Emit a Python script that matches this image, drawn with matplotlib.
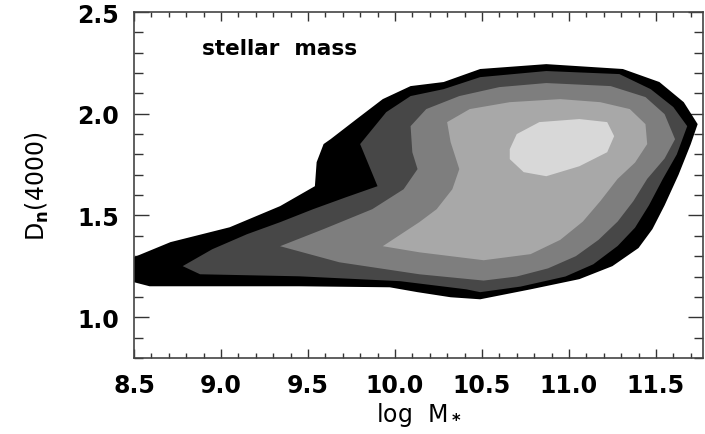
import numpy as np
import matplotlib
matplotlib.use('Agg')
import matplotlib.pyplot as plt
from matplotlib.ticker import MultipleLocator

plt.rcParams['font.family'] = ['DejaVu Sans']
plt.rcParams['font.weight'] = 'bold'
plt.rcParams['mathtext.fontset'] = 'dejavusans'
plt.rcParams['mathtext.default'] = 'bf'

# density contours of Dn(4000) vs log stellar mass, outermost level first
lev1_x = [8.45, 8.50, 8.71, 9.05, 9.34, 9.54, 9.55, 9.59, 9.63, 9.78, 9.93, 10.09, 10.28, 10.49,
          10.87, 11.31, 11.52, 11.66, 11.74, 11.70, 11.63, 11.55, 11.48, 11.40, 11.25, 11.06, 10.78,
          10.49, 10.32, 10.13, 9.97, 9.45, 8.88, 8.59, 8.50, 8.45]
lev1_y = [1.31, 1.295, 1.369, 1.442, 1.546, 1.644, 1.762, 1.851, 1.875, 1.974, 2.072, 2.136, 2.156, 2.220,
          2.244, 2.220, 2.156, 2.057, 1.949, 1.85, 1.70, 1.55, 1.433, 1.34, 1.251, 1.187, 1.137,
          1.088, 1.098, 1.123, 1.147, 1.152, 1.152, 1.152, 1.172, 1.18]

lev2_x = [8.78, 8.95, 9.15, 9.34, 9.53, 9.72, 9.90, 9.80, 9.95, 10.09, 10.28, 10.49, 10.87, 11.29,
          11.47, 11.60, 11.68, 11.62, 11.54, 11.46, 11.38, 11.28, 11.14, 10.98, 10.72, 10.49, 10.41,
          10.03, 9.45, 8.88]
lev2_y = [1.251, 1.334, 1.408, 1.467, 1.531, 1.590, 1.644, 1.851, 2.008, 2.087, 2.121, 2.180, 2.210, 2.195,
          2.121, 2.033, 1.939, 1.80, 1.68, 1.55, 1.44, 1.35, 1.26, 1.20, 1.15, 1.123, 1.137,
          1.177, 1.201, 1.211]

lev3_x = [9.34, 9.59, 9.87, 10.05, 10.13, 10.10, 10.09, 10.18, 10.37, 10.60, 10.87, 11.24, 11.44,
          11.55, 11.61, 11.55, 11.45, 11.37, 11.28, 11.17, 11.04, 10.88, 10.70, 10.51, 10.14, 9.68]
lev3_y = [1.349, 1.433, 1.531, 1.629, 1.728, 1.811, 1.939, 2.023, 2.087, 2.131, 2.151, 2.136, 2.082,
          1.998, 1.875, 1.78, 1.68, 1.57, 1.47, 1.38, 1.30, 1.24, 1.20, 1.18, 1.211, 1.270]

lev4_x = [9.93, 10.14, 10.24, 10.33, 10.37, 10.32, 10.30, 10.43, 10.66, 10.95, 11.18, 11.35, 11.44,
          11.45, 11.38, 11.28, 11.18, 11.08, 10.95, 10.78, 10.51, 10.14]
lev4_y = [1.349, 1.467, 1.531, 1.629, 1.728, 1.861, 1.959, 2.023, 2.057, 2.072, 2.057, 2.023, 1.949,
          1.851, 1.76, 1.68, 1.57, 1.47, 1.38, 1.31, 1.28, 1.319]

lev5_x = [10.66, 10.70, 10.83, 11.06, 11.22, 11.26, 11.22, 11.06, 10.87, 10.74, 10.66]
lev5_y = [1.826, 1.900, 1.959, 1.974, 1.959, 1.890, 1.811, 1.742, 1.693, 1.713, 1.777]

levels = [(lev1_x, lev1_y), (lev2_x, lev2_y), (lev3_x, lev3_y), (lev4_x, lev4_y), (lev5_x, lev5_y)]
shades = ['#000000', '#474747', '#7e7e7e', '#a8a8a8', '#d8d8d8']

fig = plt.figure(figsize=(7.05, 4.35), dpi=100)
ax = fig.add_axes([0.190, 0.175, 0.807, 0.795])

for (xs, ys), c in zip(levels, shades):
    ax.fill(xs, ys, color=c, lw=0, zorder=2)

ax.set_xlim(8.5, 11.77)
ax.set_ylim(0.8, 2.5)

ax.xaxis.set_major_locator(MultipleLocator(0.5))
ax.xaxis.set_minor_locator(MultipleLocator(0.1))
ax.yaxis.set_major_locator(MultipleLocator(0.5))
ax.yaxis.set_minor_locator(MultipleLocator(0.1))
ax.xaxis.set_major_formatter(matplotlib.ticker.FormatStrFormatter('%.1f'))
ax.yaxis.set_major_formatter(matplotlib.ticker.FormatStrFormatter('%.1f'))

ax.tick_params(axis='both', which='both', direction='in', top=True, right=True,
               width=1, colors='#333333', labelcolor='black', labelsize=17)
ax.tick_params(axis='x', which='major', length=6.5, pad=11)
ax.tick_params(axis='x', which='minor', length=3.6)
ax.tick_params(axis='y', which='major', length=11, pad=11)
ax.tick_params(axis='y', which='minor', length=6.5)
for s in ax.spines.values():
    s.set_linewidth(1.2)
    s.set_color('#444444')
    s.set_zorder(3)

ax.set_xlabel(r'log  M$_*$', fontsize=17, labelpad=2)
ax.set_ylabel(r'D$_n$(4000)', fontsize=17, labelpad=19)

ax.text(0.12, 0.879, 'stellar  mass', transform=ax.transAxes, fontsize=15.5,
        fontweight='bold', ha='left', va='baseline')

plt.savefig('out.png', dpi=100)
